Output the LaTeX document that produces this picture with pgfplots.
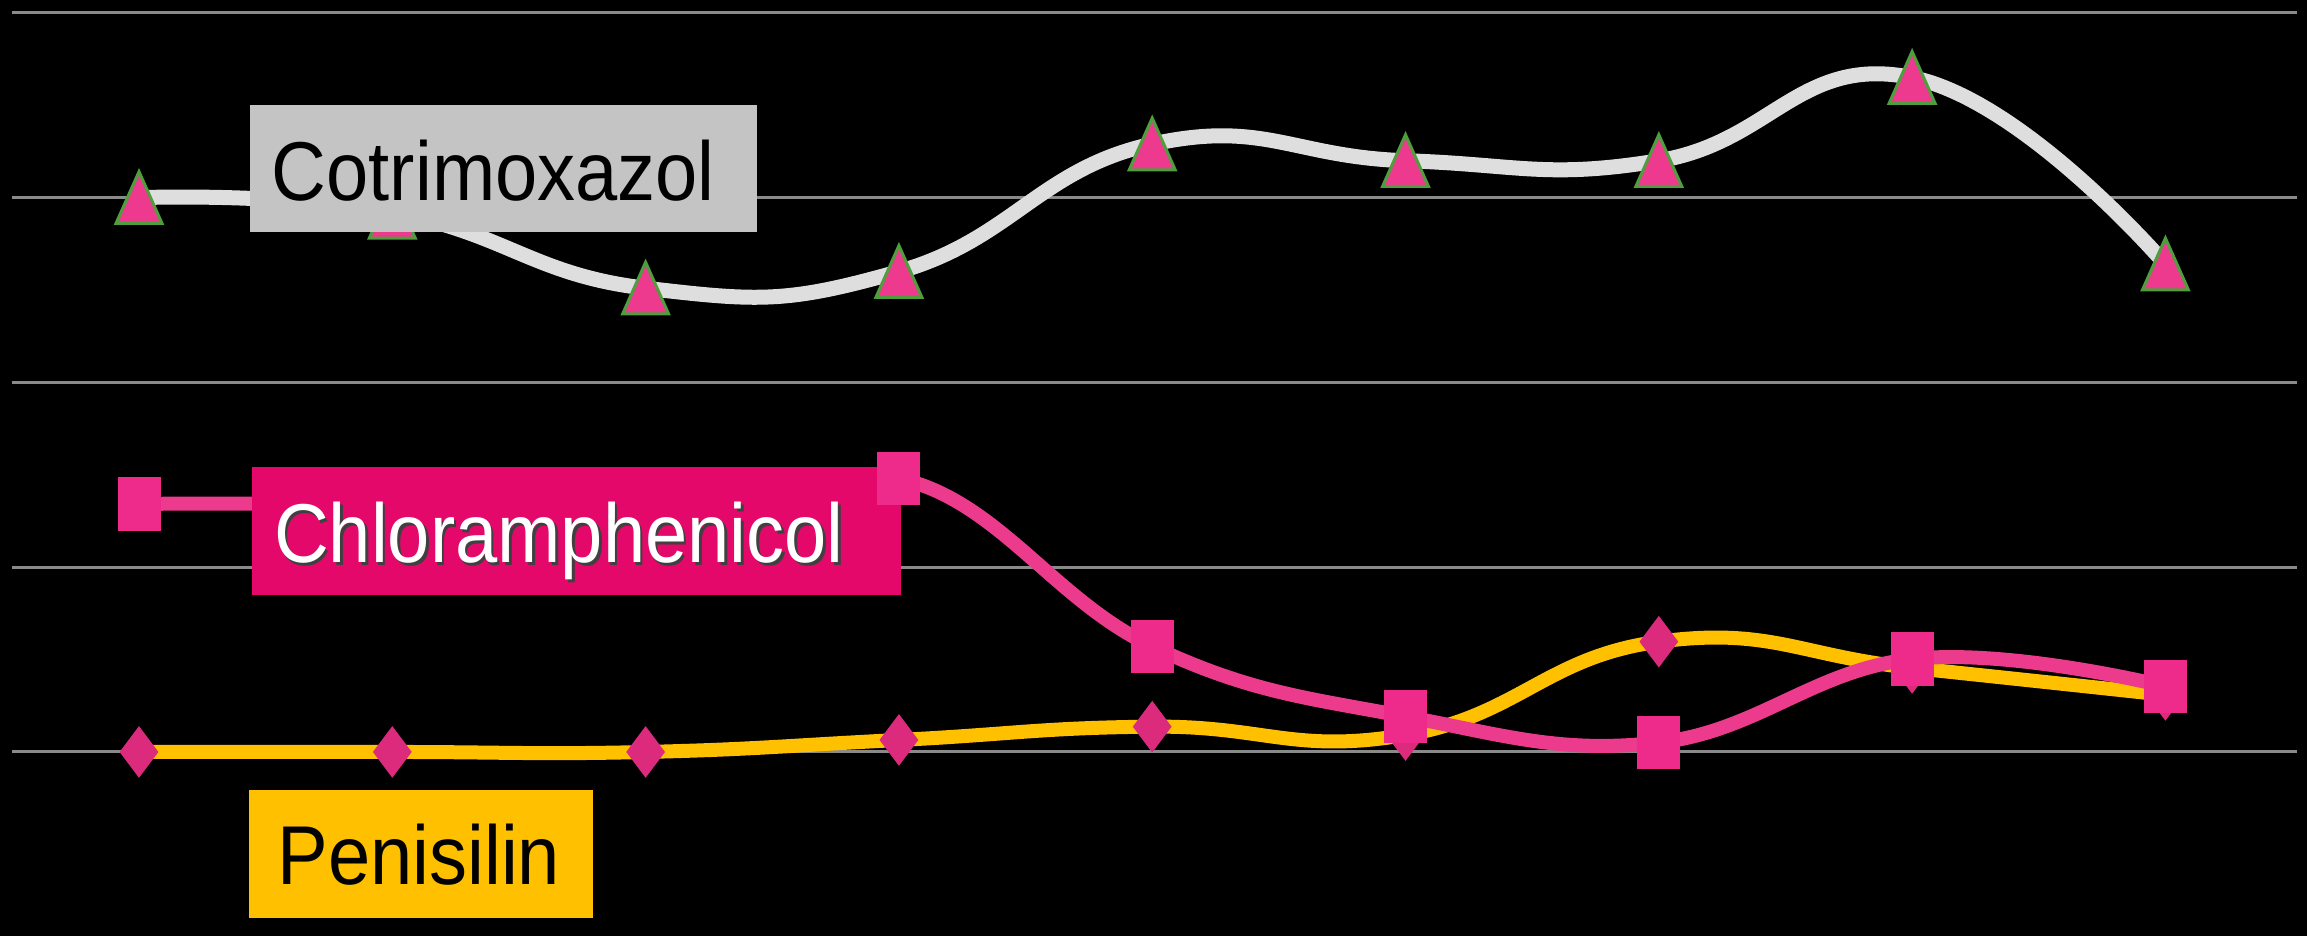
\documentclass[border=0pt]{standalone}
\usepackage{fontspec}
\setmainfont{Liberation Sans}
\usepackage{graphicx}
\usepackage{pgfplots}
\pgfplotsset{compat=1.18}
\definecolor{gridc}{HTML}{8A8A8A}
\definecolor{cotline}{HTML}{DEDEDE}
\definecolor{trifill}{HTML}{EE3A8E}
\definecolor{triedge}{HTML}{4E9E3E}
\definecolor{chlline}{HTML}{EC3B8C}
\definecolor{sqfill}{HTML}{EE2A8A}
\definecolor{penline}{HTML}{FFC000}
\definecolor{diafill}{HTML}{DC2A7C}
\definecolor{cotbox}{HTML}{C4C4C4}
\definecolor{chlbox}{HTML}{E4086B}
\definecolor{penbox}{HTML}{FFC000}
\newcommand{\lab}[1]{\fontsize{21.6}{21.6}\selectfont\scalebox{1}[1.10]{#1}}
\begin{document}
\begin{tikzpicture}
\begin{axis}[
  scale only axis, width=23.07cm, height=9.36cm,
  xmin=0.4512, xmax=9.559, ymin=-9.96, ymax=40.70,
  axis background/.style={fill=black},
  axis line style={draw=none}, tick style={draw=none},
  xtick=\empty, ytick=\empty,
  clip=false, clip marker paths=true,
]
% grid lines
\foreach \yy in {0,10,20,30,40} {
  \edef\tmp{\noexpand\draw[gridc, line width=0.03cm] (axis cs:0.5,\yy) -- (axis cs:9.52,\yy);}
  \tmp
}
% Cotrimoxazol
\addplot[cotline, line width=0.15cm, smooth, tension=0.8,
  mark=triangle*, mark size=0.265cm,
  mark options={fill=trifill, draw=triedge, line width=0.03cm, yscale=1.3, yshift=-0.065cm}]
  coordinates {(1,30.0) (2,29.2) (3,25.1) (4,26.0) (5,32.9) (6,32.0) (7,32.0) (8,36.5) (9,26.4)};
% Penisilin
\addplot[penline, line width=0.14cm, smooth, tension=0.8,
  mark=diamond*, mark size=0.25cm,
  mark options={fill=diafill, draw=diafill, line width=0.01cm}]
  coordinates {(1,0) (2,0) (3,0) (4,0.65) (5,1.37) (6,0.92) (7,5.97) (8,4.55) (9,3.09)};
% Chloramphenicol
\addplot[chlline, line width=0.14cm, smooth, tension=0.7,
  mark=square*, mark size=0.21cm,
  mark options={fill=sqfill, draw=sqfill, line width=0.01cm, yscale=1.24}]
  coordinates {(1,13.42) (2,13.2) (3,11.6) (4,14.8) (5,5.71) (6,1.92) (7,0.51) (8,5.03) (9,3.55)};
% label boxes
\fill[cotbox] (rel axis cs:0.1084,0.8878) rectangle (rel axis cs:0.3281,0.7521);
\node[anchor=base west, inner sep=0pt, text=black] at (rel axis cs:0.1175,0.7863) {\lab{Cotrimoxazol}};
\fill[chlbox] (rel axis cs:0.1092,0.5011) rectangle (rel axis cs:0.3906,0.3643);
\node[anchor=base west, inner sep=0pt, text=black!75, xshift=0.025cm, yshift=-0.025cm] at (rel axis cs:0.1185,0.3985) {\lab{Chloramphenicol}};
\node[anchor=base west, inner sep=0pt, text=white] at (rel axis cs:0.1185,0.3985) {\lab{Chloramphenicol}};
\fill[penbox] (rel axis cs:0.1079,0.1560) rectangle (rel axis cs:0.2570,0.0192);
\node[anchor=base west, inner sep=0pt, text=black] at (rel axis cs:0.1200,0.0545) {\lab{Penisilin}};
% square of point 4 over the box
\addplot[only marks, mark=square*, mark size=0.21cm,
  mark options={fill=sqfill, draw=sqfill, line width=0.01cm, yscale=1.24}]
  coordinates {(4,14.8)};
\end{axis}
\end{tikzpicture}
\end{document}
